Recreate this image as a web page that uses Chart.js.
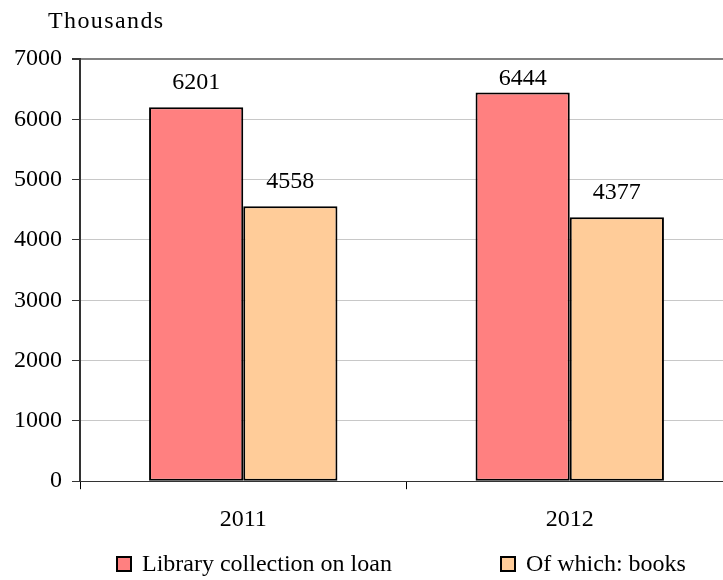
<!DOCTYPE html>
<html>
<head>
<meta charset="utf-8">
<script src="https://cdn.jsdelivr.net/npm/chart.js@4/dist/chart.umd.min.js"></script>
<style>
  html, body { margin: 0; padding: 0; background: #fff; overflow: hidden; width: 723px; height: 580px; }
  #wrap { position: relative; width: 760px; height: 580px; }
  #legend { position: absolute; left: 116px; top: 550px; font-family: "Liberation Serif", "Times New Roman", serif; font-size: 24px; color: #000; display: flex; white-space: nowrap; }
  .item { display: flex; align-items: center; }
  .box { width: 12px; height: 12px; border: 2px solid #000; margin-right: 10px; }
</style>
</head>
<body>
<div id="wrap">
  <canvas id="c" width="760" height="580"></canvas>
  <div id="legend"></div>
</div>
<script>
const unitLabel = "Thousands";
const categories = ["2011", "2012"];
const seriesNames = ["Library collection on loan", "Of which: books"];
const collectionOnLoan = [6201, 6444];
const ofWhichBooks = [4558, 4377];
const yTicks = [0, 1000, 2000, 3000, 4000, 5000, 6000, 7000];
const seriesColors = ["#FF8080", "#FFCC99"];

const FONT = "Liberation Serif";

const labelPlugin = {
  id: 'valueLabels',
  afterDatasetsDraw(chart) {
    const ctx = chart.ctx;
    ctx.save();
    ctx.font = '24px "' + FONT + '"';
    ctx.fillStyle = '#000';
    ctx.textAlign = 'center';
    ctx.textBaseline = 'alphabetic';
    chart.data.datasets.forEach((ds, di) => {
      const meta = chart.getDatasetMeta(di);
      meta.data.forEach((bar, i) => {
        const y = Math.max(bar.y - 18, chart.chartArea.top + 26);
        ctx.fillText(String(ds.data[i]), bar.x, y);
      });
    });
    ctx.textAlign = 'left';
    ctx.letterSpacing = '1.4px';
    ctx.fillText(unitLabel, 48, 28);
    ctx.restore();
  }
};

const chart = new Chart(document.getElementById('c'), {
  type: 'bar',
  data: {
    labels: categories,
    datasets: [
      { label: seriesNames[0], data: collectionOnLoan, backgroundColor: seriesColors[0], borderColor: '#000', borderWidth: 2, borderSkipped: false },
      { label: seriesNames[1], data: ofWhichBooks, backgroundColor: seriesColors[1], borderColor: '#000', borderWidth: 2, borderSkipped: false }
    ]
  },
  options: {
    responsive: false,
    animation: false,
    events: [],
    layout: { padding: { left: 4, right: 27, top: 59, bottom: 30 } },
    datasets: { bar: { categoryPercentage: 0.577, barPercentage: 1.0 } },
    plugins: {
      legend: { display: false },
      tooltip: { enabled: false },
      title: { display: false }
    },
    scales: {
      x: {
        offset: true,
        grid: { offset: true, drawOnChartArea: false, drawTicks: true, tickLength: 8, color: '#000', lineWidth: 1 },
        border: { display: true, color: '#333', width: 1 },
        ticks: { color: '#000', padding: 16, font: { family: FONT, size: 24 } }
      },
      y: {
        min: 0,
        max: 7000,
        afterBuildTicks(scale) { scale.ticks = yTicks.map(v => ({ value: v })); },
        grid: {
          color: (c) => c.tick && c.tick.value === 7000 ? '#808080' : '#c8c8c8',
          lineWidth: (c) => c.tick && c.tick.value === 7000 ? 2 : 1,
          tickColor: '#333',
          tickLength: 8,
          drawTicks: true
        },
        border: { display: true, color: '#333', width: 2 },
        ticks: { color: '#000', padding: 10, font: { family: FONT, size: 24 }, callback: (v) => String(v) }
      }
    }
  },
  plugins: [labelPlugin]
});

const legendEl = document.getElementById('legend');
const items = chart.options.plugins.legend.labels.generateLabels(chart);
items.forEach((it, i) => {
  const d = document.createElement('div');
  d.className = 'item';
  if (i > 0) d.style.marginLeft = '108px';
  const b = document.createElement('span');
  b.className = 'box';
  b.style.background = it.fillStyle;
  const t = document.createElement('span');
  t.textContent = it.text;
  d.appendChild(b); d.appendChild(t);
  legendEl.appendChild(d);
});
</script>
</body>
</html>
